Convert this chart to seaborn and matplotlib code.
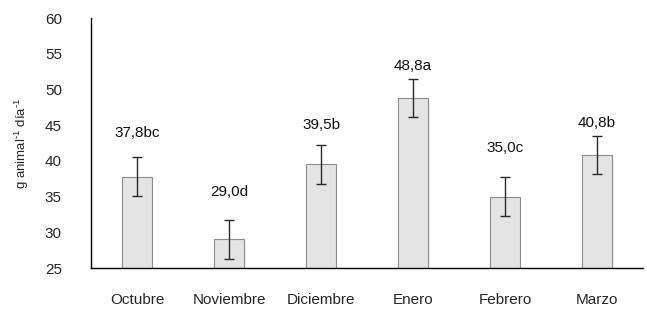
import pandas as pd
import matplotlib.pyplot as plt
import seaborn as sns

# Datos
meses = ['Octubre', 'Noviembre', 'Diciembre', 'Enero', 'Febrero', 'Marzo']
consumo = [37.8, 29.0, 39.5, 48.8, 35.0, 40.8]
error = [2.7, 2.7, 2.7, 2.7, 2.7, 2.7]
etiquetas = ['37,8bc', '29,0d', '39,5b', '48,8a', '35,0c', '40,8b']
altura_etiqueta = [43.9, 35.6, 45.0, 53.3, 41.8, 45.3]

df = pd.DataFrame({'mes': meses, 'consumo': consumo})

sns.set_style("white")
plt.rcParams['font.family'] = ['Liberation Sans', 'DejaVu Sans']
plt.rcParams['mathtext.default'] = 'regular'

fig = plt.figure(figsize=(6.47, 3.12), dpi=100)
ax = fig.add_axes([0.1407, 0.141, 0.853, 0.801])

sns.barplot(data=df, x='mes', y='consumo', width=0.33, color='#e4e4e4',
            edgecolor='#8c8c8c', linewidth=0.8, ax=ax, saturation=1)

# Barras de error
ax.errorbar(range(len(meses)), consumo, yerr=error, fmt='none',
            ecolor='#2a2a2a', elinewidth=1, capsize=3.5, capthick=1)

# Etiquetas de valores
for i, (txt, h) in enumerate(zip(etiquetas, altura_etiqueta)):
    ax.text(i, h, txt, ha='center', va='center', fontsize=11, color='#111111')

ax.set_ylim(25, 60)
ax.set_yticks(range(25, 61, 5))
ax.set_xlim(-0.5, len(meses) - 0.5)
ax.set_xlabel('')
ax.set_ylabel('g animal$^{\\text{-}1}$ día$^{\\text{-}1}$', fontsize=9.5, labelpad=10)
ax.tick_params(axis='y', length=0, pad=21, labelsize=11)
ax.tick_params(axis='x', length=0, pad=18, labelsize=11)

sns.despine(ax=ax, top=True, right=True)
for s in ['left', 'bottom']:
    ax.spines[s].set_color('black')
    ax.spines[s].set_linewidth(1)

plt.savefig('out.png', dpi=100)
plt.close()
